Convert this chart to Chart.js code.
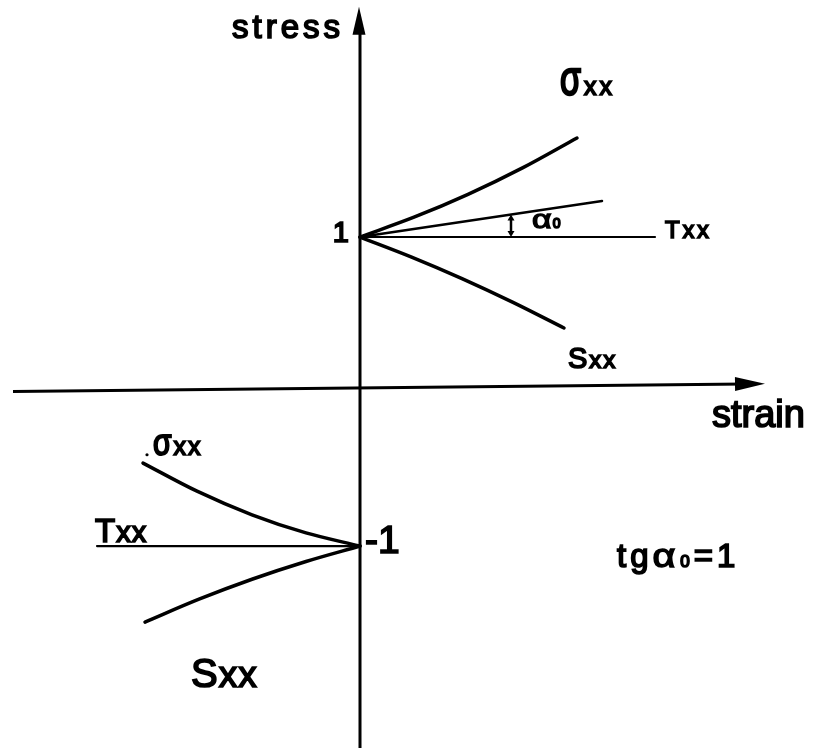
<!DOCTYPE html>
<html>
<head>
<meta charset="utf-8">
<script src="https://cdn.jsdelivr.net/npm/chart.js@4.4.0/dist/chart.umd.min.js"></script>
<style>
  html, body { margin: 0; padding: 0; background: #fff; }
  #wrap { width: 814px; height: 748px; }
</style>
</head>
<body>
<div id="wrap"><canvas id="myChart" width="814" height="748"></canvas></div>
<script>
// strain along x, stress along y (stress scaled so the two branches start at +1 and -1)
const upperSigmaX = [0, 0.54, 1.08, 1.63, 2.17];
const upperSigmaY = [1, 1.128, 1.276, 1.449, 1.641];
const tangentX = [0, 2.42];
const tangentY = [1, 1.233];
const upperTX = [0, 2.95];
const upperTY = [1, 1];
const upperSX = [0, 0.51, 1.02, 1.53, 2.04];
const upperSY = [1, 0.872, 0.731, 0.577, 0.411];

const lowerSigmaX = [-2.17, -1.63, -1.08, -0.54, 0];
const lowerSigmaY = [-0.463, -0.645, -0.798, -0.915, -1];
const lowerTX = [-2.63, 0];
const lowerTY = [-1, -1];
const lowerSX = [-2.15, -1.61, -1.08, -0.54, 0];
const lowerSY = [-1.492, -1.344, -1.215, -1.100, -1];

const stressTicks = [1, -1];
const tickLabels = ['1', '-1'];

const FONT = '"Liberation Sans", Arial, sans-serif';
const INK = '#000';
const TEXT_WEIGHT = 1.7;

function toPoints(xs, ys) {
  return xs.map((x, i) => ({ x: x, y: ys[i] }));
}

function lineSet(xs, ys, width) {
  return {
    data: toPoints(xs, ys),
    showLine: true,
    borderColor: INK,
    borderWidth: width,
    pointRadius: 0,
    cubicInterpolationMode: 'monotone',
    borderCapStyle: 'round',
    fill: false
  };
}

// text pieces drawn one after another on the same baseline
const labels = [
  { x: -1.28, y: 2.288, spacing: 4, runs: [{ t: 'stress', size: 33 }] },
  { x: 3.52, y: -0.23, runs: [{ t: 'strain', size: 38 }] },
  { x: 2.0, y: 1.919, spacing: 3, runs: [{ t: 'σ', size: 34, sy: 1.4 }, { t: 'xx', size: 25 }] },
  { x: 3.05, y: 0.994, spacing: 3, runs: [{ t: 'T', size: 24 }, { t: 'xx', size: 23 }] },
  { x: 2.08, y: 0.152, spacing: 2, runs: [{ t: 'S', size: 29 }, { t: 'xx', size: 24 }] },
  { x: 1.72, y: 1.058, spacing: 1, runs: [{ t: 'α', size: 26, sx: 1.3 }, { t: '0', size: 14 }] },
  { x: -2.07, y: -0.411, spacing: 2, runs: [{ t: 'σ', size: 30, sy: 1.2 }, { t: 'xx', size: 25 }] },
  { x: -2.65, y: -0.974, spacing: 1, runs: [{ t: 'T', size: 33 }, { t: 'xx', size: 29 }] },
  { x: -1.69, y: -1.913, spacing: 1, runs: [{ t: 'S', size: 40 }, { t: 'xx', size: 37 }] },
  { x: 2.57, y: -1.136, spacing: 4, runs: [{ t: 'tg', size: 33 }, { t: 'α', size: 33, sx: 1.2 }, { t: '0', size: 17 }, { t: '=1', size: 33 }] }
];

function drawRuns(ctx, px, py, runs, spacing) {
  let cx = px;
  ctx.letterSpacing = (spacing || 0) + 'px';
  runs.forEach(r => {
    ctx.font = r.size + 'px ' + FONT;
    const sx = r.sx || 1, sy = r.sy || 1;
    ctx.save();
    ctx.translate(cx, py + (r.dy || 0));
    ctx.scale(sx, sy);
    ctx.lineWidth = TEXT_WEIGHT / sx;
    ctx.fillText(r.t, 0, 0);
    ctx.strokeText(r.t, 0, 0);
    ctx.restore();
    cx += ctx.measureText(r.t).width * sx;
  });
  ctx.letterSpacing = '0px';
}

function arrowHead(ctx, tx, ty, dx, dy, len, half) {
  const bx = tx - dx * len, by = ty - dy * len;
  ctx.beginPath();
  ctx.moveTo(tx, ty);
  ctx.lineTo(bx - dy * half, by + dx * half);
  ctx.lineTo(bx + dy * half, by - dx * half);
  ctx.closePath();
  ctx.fill();
}

const diagramPlugin = {
  id: 'diagram',
  afterDatasetsDraw(chart) {
    const ctx = chart.ctx;
    const xs = chart.scales.x, ys = chart.scales.y;
    ctx.save();
    ctx.strokeStyle = INK;
    ctx.fillStyle = INK;
    ctx.lineCap = 'butt';

    // stress axis
    const ax = xs.getPixelForValue(0);
    const top = ys.getPixelForValue(2.49);
    ctx.lineWidth = 3;
    ctx.beginPath();
    ctx.moveTo(ax, chart.height);
    ctx.lineTo(ax, top + 20);
    ctx.stroke();
    arrowHead(ctx, ax - 1, top, 0, -1, 28, 6.5);

    // strain axis, drawn a little off level
    const l = { x: xs.getPixelForValue(-3.47), y: ys.getPixelForValue(0.0) };
    const r = { x: xs.getPixelForValue(4.05), y: ys.getPixelForValue(0.05) };
    const len = Math.hypot(r.x - l.x, r.y - l.y);
    const ux = (r.x - l.x) / len, uy = (r.y - l.y) / len;
    ctx.beginPath();
    ctx.moveTo(l.x, l.y);
    ctx.lineTo(r.x - ux * 20, r.y - uy * 20);
    ctx.stroke();
    arrowHead(ctx, r.x, r.y, ux, uy, 30, 7);

    // angle marker between the tangent and the T line
    const mx = xs.getPixelForValue(1.51);
    const m0 = ys.getPixelForValue(1.0);
    const m1 = ys.getPixelForValue(1.0 + 0.233 * 1.51 / 2.42);
    ctx.lineWidth = 2.5;
    ctx.beginPath();
    ctx.moveTo(mx, m0 - 4);
    ctx.lineTo(mx, m1 + 4);
    ctx.stroke();
    arrowHead(ctx, mx, m0, 0, 1, 6, 3.5);
    arrowHead(ctx, mx, m1, 0, -1, 6, 3.5);

    // stress levels
    ctx.textBaseline = 'alphabetic';
    ctx.lineWidth = TEXT_WEIGHT;
    stressTicks.forEach((v, i) => {
      const py = ys.getPixelForValue(v);
      if (v > 0) {
        ctx.textAlign = 'right';
        ctx.font = '29px ' + FONT;
        ctx.fillText(tickLabels[i], ax - 11, py + 5);
        ctx.strokeText(tickLabels[i], ax - 11, py + 5);
      } else {
        ctx.textAlign = 'left';
        ctx.font = '39px ' + FONT;
        ctx.fillText(tickLabels[i], ax + 5, py + 7);
        ctx.strokeText(tickLabels[i], ax + 5, py + 7);
      }
    });

    ctx.textAlign = 'left';
    labels.forEach(lb => {
      drawRuns(ctx, xs.getPixelForValue(lb.x), ys.getPixelForValue(lb.y), lb.runs, lb.spacing);
    });

    // small ink dot by the lower sigma label
    ctx.beginPath();
    ctx.arc(xs.getPixelForValue(-2.13), ys.getPixelForValue(-0.409), 1.6, 0, Math.PI * 2);
    ctx.fill();
    ctx.restore();
  }
};

const ctx = document.getElementById('myChart');

const myChart = new Chart(ctx, {
  type: 'scatter',
  data: {
    datasets: [
      lineSet(upperSigmaX, upperSigmaY, 3.5),
      lineSet(tangentX, tangentY, 2.5),
      lineSet(upperTX, upperTY, 2.2),
      lineSet(upperSX, upperSY, 3.5),
      lineSet(lowerSigmaX, lowerSigmaY, 3.5),
      lineSet(lowerTX, lowerTY, 2.2),
      lineSet(lowerSX, lowerSY, 3.5)
    ]
  },
  options: {
    responsive: false,
    animation: false,
    layout: { padding: 0 },
    plugins: {
      legend: { display: false },
      tooltip: { enabled: false }
    },
    scales: {
      x: { type: 'linear', min: -3.6, max: 4.54, display: false },
      y: { type: 'linear', min: -2.307, max: 2.534, display: false }
    }
  },
  plugins: [diagramPlugin]
});
</script>
</body>
</html>
